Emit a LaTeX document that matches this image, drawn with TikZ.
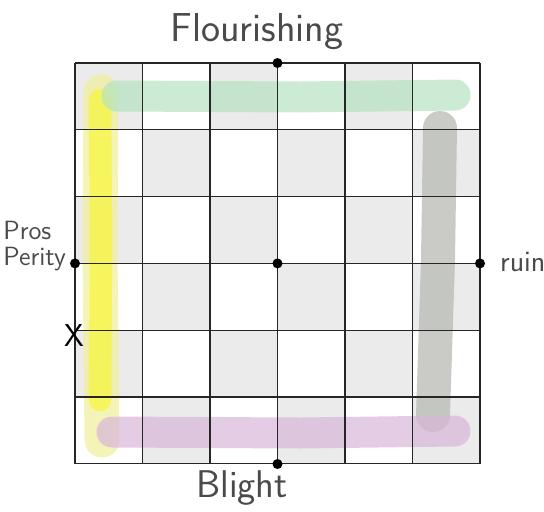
\documentclass[tikz,border=0pt]{standalone}
\usepackage{tikz}
\usepackage{xcolor}
\usetikzlibrary{positioning,calc}
\definecolor{CELL}{HTML}{EBEBEB}
\definecolor{INK}{HTML}{4A4A4A}
\definecolor{GREENB}{HTML}{B5E2C3}
\definecolor{YELB}{HTML}{F8F640}
\definecolor{YELL}{HTML}{F0EE9A}
\definecolor{GREYB}{HTML}{B8BAB4}
\definecolor{PURB}{HTML}{D9B6D9}

\begin{document}
\begin{tikzpicture}[x=0.02cm,y=-0.02cm,
    hand/.style={text=INK,font=\sffamily\fontsize{23}{25}\selectfont},
    dot/.style={circle,fill=black,inner sep=0pt,minimum size=0.2cm},
    band/.style={line width=0.62cm,line cap=round,opacity=0.8},
    gridline/.style={draw=black!85,line width=0.6pt}]
        \useasboundingbox (0,0) rectangle (544,511);
        \foreach \c in {0,...,5}{
          \foreach \r in {0,...,5}{
            \pgfmathtruncatemacro{\e}{mod(\c+\r,2)}
            \ifnum\e=0
              \fill[CELL] (75+\c*67.5,63+\r*66.8) rectangle ++(67.5,66.8);
            \fi
          }
        }
        % strokes
        \draw[band,YELL,opacity=0.7,line width=0.7cm] (101,92) -- (100,250) -- (102,440);
        \draw[band,YELB,line width=0.45cm,opacity=0.75] (100,100) -- (101,250) -- (100,400);
        \draw[band,GREENB,opacity=0.7] (117,96) -- (300,97) -- (455,95);
        \draw[band,GREYB,opacity=0.75,line width=0.68cm] (440,128) -- (438,260) -- (433,415);
        \draw[band,PURB,opacity=0.7] (112,432) -- (300,433) -- (455,431);
        \foreach \i in {0,...,6}{
          \draw[gridline] (75+\i*67.5,63) -- (75+\i*67.5,464);
          \draw[gridline] (75,63+\i*66.8) -- (480,63+\i*66.8);
        }
        \node[dot] (top) at (277.5,63) {};
        \node[dot] (centre) at (277.5,263.4) {};
        \node[dot] (left) at (75,263.4) {};
        \node[dot] (right) at (480,263.4) {};
        \node[dot] (bottom) at (277.5,464) {};
        \node[hand] (flourish) at (257,32) {Flourishing};
        \node[hand,font=\sffamily\fontsize{15}{15}\selectfont,align=left,anchor=east]
          (prosperity) at (72,246) {Pros\\Perity};
        \node[hand,font=\sffamily\fontsize{17}{17}\selectfont,anchor=west] (ruin) at (494,262) {ruin};
        \node[hand,font=\sffamily\fontsize{22}{22}\selectfont] (blight) at (242,488) {Blight};
        \node[text=black,font=\sffamily\fontsize{18}{18}\selectfont] (mark) at (74,336) {X};
      \end{tikzpicture}
\end{document}
